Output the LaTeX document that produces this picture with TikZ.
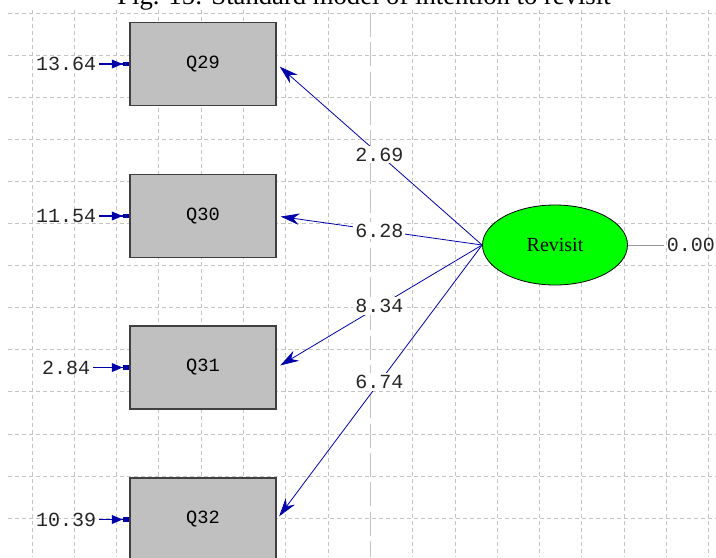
\documentclass[tikz,border=0pt]{standalone}
\usepackage{fontspec}
\setmainfont{Liberation Serif}
\newfontfamily\lisfont{Liberation Mono}
\usetikzlibrary{arrows.meta,shapes.geometric}
\definecolor{pathblue}{RGB}{0,0,170}
\definecolor{boxgray}{RGB}{192,192,192}
\definecolor{gridgray}{RGB}{196,196,196}
\tikzset{
  gridline/.style={gridgray, line width=0.75pt, dash pattern=on 3pt off 2.25pt},
  obsbox/.style={draw=black!75, line width=1.1pt, fill=boxgray, minimum width=109.5pt,
    minimum height=62.25pt, inner sep=0pt, font=\lisfont\fontsize{14}{14}\selectfont},
  latent/.style={ellipse, draw, line width=0.6pt, fill=green, minimum width=108.75pt, minimum height=60pt,
    inner sep=0pt, font=\fontsize{15}{15}\selectfont},
  errlbl/.style={anchor=east, inner sep=2pt, text=black!85, font=\lisfont\fontsize{15}{15}\selectfont},
  loadlbl/.style={fill=white, inner sep=1.5pt, text=black!85, font=\lisfont\fontsize{15}{15}\selectfont},
  loading/.style={pathblue, line width=0.6pt, shorten >=3pt, -{Stealth[length=14pt,width=8.5pt]}},
  errarrow/.style={pathblue, line width=1pt,
    -{Triangle[length=8pt,width=6.5pt,sep=0pt]Rectangle[length=5pt,width=3.5pt]}}
}
\begin{document}
\begin{tikzpicture}[x=0.75pt,y=-0.75pt]
\useasboundingbox (0,0) rectangle (716,557);
\clip (0,0) rectangle (716,557);
\fill[white] (0,0) rectangle (716,557);
% grid
\foreach \gx in {0,...,16}{
  \ifnum\gx=8
    \draw[gridgray, line width=0.9pt, dash pattern=on 18pt off 4pt] (32+42.3*\gx,13) -- (32+42.3*\gx,557);
  \else
    \draw[gridline] (32+42.3*\gx,10) -- (32+42.3*\gx,557);
  \fi}
\foreach \gy in {0,...,12}
  \draw[gridline] (8,13+42.1*\gy) -- (716,13+42.1*\gy);
% title
\node[font=\fontsize{20}{20}\selectfont, anchor=base] (title) at (364,4) {Fig. 15: Standard model of intention to revisit};
% observed variables
\node[obsbox] (q29) at (203,64) {Q29};
\node[obsbox] (q30) at (203,216) {Q30};
\node[obsbox] (q31) at (203,367.5) {Q31};
\node[obsbox] (q32) at (203,519.5) {Q32};
% latent variable
\node[latent] (rev) at (555,245) {Revisit};
% error variances
\node[errlbl] (e29) at (99,64) {13.64};
\node[errlbl] (e30) at (99,216) {11.54};
\node[errlbl] (e31) at (93,367.5) {2.84};
\node[errlbl] (e32) at (99,519.5) {10.39};
\foreach \q in {29,30,31,32}
  \draw[errarrow] (e\q) -- (q\q);
\node[errlbl, anchor=west] (d0) at (664,245) {0.00};
\draw[black!40, line width=0.75pt] (rev) -- (d0);
% loadings
\draw[loading] (rev.west) -- node[loadlbl, pos=0.5] {2.69} (q29.east);
\draw[loading] (rev.west) -- node[loadlbl, pos=0.5] {6.28} (q30.east);
\draw[loading] (rev.west) -- node[loadlbl, pos=0.5] {8.34} (q31.east);
\draw[loading] (rev.west) -- node[loadlbl, pos=0.5] {6.74} (q32.east);
\end{tikzpicture}
\end{document}
